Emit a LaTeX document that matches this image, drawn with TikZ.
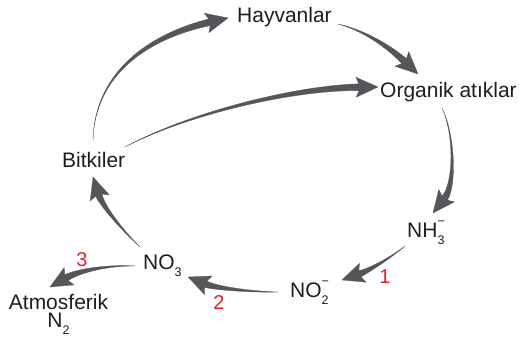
\documentclass[tikz,border=0pt]{standalone}
\usepackage{fontspec}
\setmainfont{Liberation Sans}
\usetikzlibrary{calc}
\definecolor{arrowgray}{RGB}{84,86,89}
\definecolor{numred}{RGB}{232,30,40}
\definecolor{txt}{RGB}{30,30,30}
\newcommand\ssp[2]{\rlap{\raisebox{-7pt}{\fontsize{12.5}{12.5}\selectfont #1}}\raisebox{12pt}{\fontsize{12.5}{12.5}\selectfont #2}}
\newcommand\sbo[1]{\raisebox{-7pt}{\fontsize{12.5}{12.5}\selectfont #1}}
% tapered arrow: tail, control 1, control 2, tip
\newcommand\tarr[4]{%
  \coordinate (tH) at ($(#4)!22pt!(#3)$);
  \coordinate (tN) at ($(#4)!19pt!(#3)$);
  \coordinate (tL) at ($(tN)!3.4pt!90:(#4)$);
  \coordinate (tR) at ($(tN)!3.4pt!-90:(#4)$);
  \coordinate (tHL) at ($(tH)!10pt!90:(#4)$);
  \coordinate (tHR) at ($(tH)!10pt!-90:(#4)$);
  \filldraw[arrowshape] (#1) .. controls ($(#2)+0.25*(tL)-0.25*(tN)$) and ($(#3)+0.6*(tL)-0.6*(tN)$) .. (tL)
    -- (tHL) -- (#4) -- (tHR) -- (tR)
    .. controls ($(#3)+0.6*(tR)-0.6*(tN)$) and ($(#2)+0.25*(tR)-0.25*(tN)$) .. (#1) -- cycle;
}
\tikzset{
  lbl/.style={inner sep=0pt, anchor=base west, text=txt, font=\fontsize{21}{21}\selectfont},
  num/.style={inner sep=0pt, text=numred, font=\fontsize{20}{20}\selectfont},
  arrowshape/.style={fill=arrowgray, draw=arrowgray, line width=0.3pt, line join=round}
}
\begin{document}
\begin{tikzpicture}[x=1pt,y=-1pt]
\useasboundingbox (0,0) rectangle (519,340);
\fill[white] (0,0) rectangle (519,340);
% labels
\node[lbl] (hay) at (237,23) {Hayvanlar};
\node[lbl] (org) at (380,97) {Organik atıklar};
\node[lbl] (bit) at (62,167) {Bitkiler};
\node[lbl] (nh) at (407,237) {NH\ssp{3}{−}};
\node[lbl] (no2) at (290,297) {NO\ssp{2}{−}};
\node[lbl] (no3) at (143,269) {NO\sbo{3}};
\node[inner sep=0pt, text=txt, align=center, anchor=north,
      font=\fontsize{21}{18.5}\selectfont] (atm) at (58.5,293.6) {Atmosferik\\N\sbo{2}};
\node[num] (n1) at (385,277) {1};
\node[num] (n2) at (219,303) {2};
\node[num] (n3) at (82,260) {3};
% arrow end points
\coordinate (a1s) at (93,140);  \coordinate (a1a) at (95,72);  \coordinate (a1b) at (150,36); \coordinate (a1e) at (228,18);
\coordinate (a2s) at (338,24);  \coordinate (a2a) at (363,30); \coordinate (a2b) at (388,46); \coordinate (a2e) at (418,74);
\coordinate (a3s) at (125,147); \coordinate (a3a) at (185,115);\coordinate (a3b) at (290,88); \coordinate (a3e) at (378,87);
\coordinate (a4s) at (442,108); \coordinate (a4a) at (455,135);\coordinate (a4b) at (455,185);\coordinate (a4e) at (433,213);
\coordinate (a5s) at (405,246); \coordinate (a5a) at (385,262);\coordinate (a5b) at (365,272);\coordinate (a5e) at (342,280);
\coordinate (a6s) at (278,292); \coordinate (a6a) at (250,292);\coordinate (a6b) at (215,288);\coordinate (a6e) at (188,277);
\coordinate (a7s) at (135,266); \coordinate (a7a) at (110,265);\coordinate (a7b) at (80,270); \coordinate (a7e) at (50,287);
\coordinate (a8s) at (140,247); \coordinate (a8a) at (120,228);\coordinate (a8b) at (102,205);\coordinate (a8e) at (93,177);
% arrows
\tarr{a1s}{a1a}{a1b}{a1e}
\tarr{a2s}{a2a}{a2b}{a2e}
\tarr{a3s}{a3a}{a3b}{a3e}
\tarr{a4s}{a4a}{a4b}{a4e}
\tarr{a5s}{a5a}{a5b}{a5e}
\tarr{a6s}{a6a}{a6b}{a6e}
\tarr{a7s}{a7a}{a7b}{a7e}
\tarr{a8s}{a8a}{a8b}{a8e}
\end{tikzpicture}
\end{document}
